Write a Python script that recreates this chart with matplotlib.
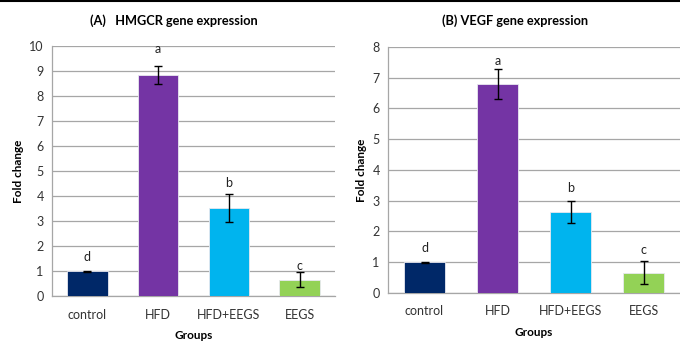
import matplotlib
matplotlib.use("Agg")
import matplotlib.pyplot as plt
from matplotlib.lines import Line2D

plt.rcParams['font.family'] = ['Lato', 'DejaVu Sans']

groups = ["control", "HFD", "HFD+EEGS", "EEGS"]
colors = ["#002868", "#7434A4", "#00B4EE", "#93D256"]

hmgcr_vals = [1.00, 8.82, 3.52, 0.65]
hmgcr_err = [0.02, 0.36, 0.56, 0.30]
hmgcr_letters = ["d", "a", "b", "c"]
hmgcr_letter_y = [1.57, 9.87, 4.50, 1.20]

vegf_vals = [1.00, 6.79, 2.64, 0.66]
vegf_err = [0.02, 0.48, 0.35, 0.37]
vegf_letters = ["d", "a", "b", "c"]
vegf_letter_y = [1.45, 7.54, 3.42, 1.39]

fig = plt.figure(figsize=(6.8, 3.43), dpi=100)

def panel(rect, vals, errs, letters, letter_y, ymax, title, title_x):
    ax = fig.add_axes(rect)
    x = range(len(groups))
    ax.bar(x, vals, width=0.57, color=colors, edgecolor="#e8e8f0", linewidth=0.6, zorder=3)
    ax.errorbar(x, vals, yerr=errs, fmt="none", ecolor="black", elinewidth=1.0,
                capsize=3, capthick=1.0, zorder=4)
    for xi, lt, ly in zip(x, letters, letter_y):
        ax.text(xi, ly, lt, ha="center", va="center", fontsize=9, color="#222222")
    ax.set_xlim(-0.5, 3.5)
    ax.set_ylim(0, ymax)
    ax.set_yticks(range(0, ymax + 1))
    ax.set_xticks(list(x))
    ax.set_xticklabels(groups)
    ax.yaxis.grid(True, color="#a6a6a6", linewidth=0.9, zorder=0)
    ax.set_axisbelow(True)
    for s in ["top", "right"]:
        ax.spines[s].set_visible(False)
    for s in ["left", "bottom"]:
        ax.spines[s].set_color("#a6a6a6")
        ax.spines[s].set_linewidth(0.9)
    ax.tick_params(axis="both", length=0, labelsize=9, colors="#333333")
    ax.tick_params(axis="x", pad=9)
    ax.tick_params(axis="y", pad=6)
    ax.set_ylabel("Fold change", fontsize=8.5, fontweight="bold", labelpad=4)
    ax.set_xlabel("Groups", fontsize=8.5, fontweight="bold", labelpad=7)
    fig.text(title_x, 0.94, title, ha="center", va="center", fontsize=9.2, fontweight="bold")
    return ax

panel([0.0765, 0.137, 0.416, 0.729], hmgcr_vals, hmgcr_err, hmgcr_letters,
      hmgcr_letter_y, 10, "(A)   HMGCR gene expression", 0.255)
panel([0.5706, 0.146, 0.4294, 0.717], vegf_vals, vegf_err, vegf_letters,
      vegf_letter_y, 8, "(B) VEGF gene expression", 0.758)

fig.add_artist(Line2D([0, 1], [0.997, 0.997], transform=fig.transFigure,
                      color="black", linewidth=1.5))

fig.savefig("out.png", dpi=100)
